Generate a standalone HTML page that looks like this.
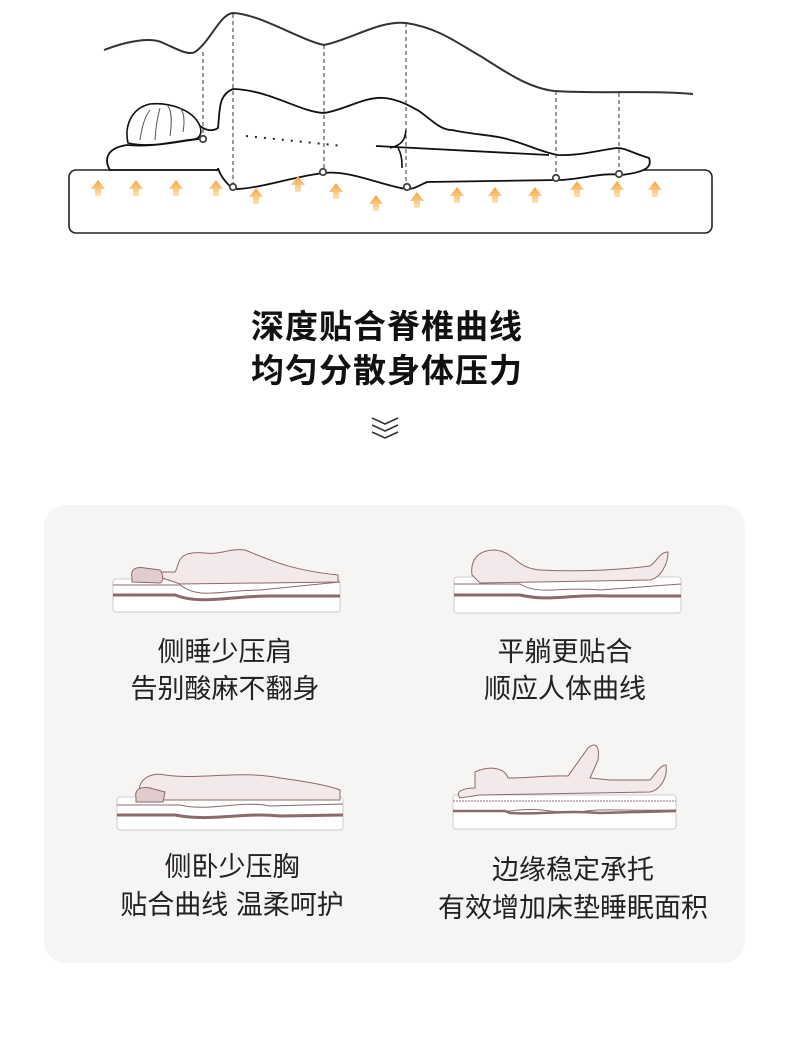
<!DOCTYPE html>
<html><head><meta charset="utf-8"><style>
html,body{margin:0;padding:0;background:#fff;}
body{width:790px;height:1043px;position:relative;overflow:hidden;font-family:"Liberation Sans","Noto Sans CJK SC",sans-serif;}
.t{position:absolute;left:0;width:774px;text-align:center;font-weight:bold;font-size:33px;color:#111;letter-spacing:1px;}
.card{position:absolute;left:44px;top:505px;width:701px;height:458px;background:#f7f4f4;border-radius:22px;}
.l{position:absolute;text-align:center;color:#222;font-size:27px;width:400px;}
</style></head><body>
<svg width="790" height="1043" style="position:absolute;left:0;top:0">
<defs>
<linearGradient id="ag" x1="0" y1="0" x2="0" y2="1"><stop offset="0" stop-color="#f3a640"/><stop offset="1" stop-color="#fde3b8"/></linearGradient>
<symbol id="ar" viewBox="0 0 14 16"><path d="M7 0 L14 9 L10 9 L10 16 L4 16 L4 9 L0 9Z" fill="url(#ag)"/></symbol>
</defs>
<rect x="69" y="170" width="643" height="63" rx="7" fill="#fff" stroke="#222" stroke-width="1.6"/>
<path d="M104 50 C130 40 150 38 161 42 C175 48 188 56 195 52 C210 42 220 14 233 13 C260 14 300 40 324 45 C350 40 380 20 406 23 C440 28 460 45 482 57 C510 75 530 88 554 91 C600 94 650 90 693 94" fill="none" stroke="#333" stroke-width="2"/>
<path d="M110 170 C104 160 106 148 127 145 C160 148 190 138 212 138 C224 145 224 162 218 170 Z" fill="#fff" stroke="#111" stroke-width="1.8"/>
<path d="M128 143 C124 125 132 108 150 104 C170 102 192 110 199 124 C203 132 200 138 195 139 C170 142 150 148 128 143Z" fill="#fff" stroke="#111" stroke-width="1.6"/>
<path d="M140 140 C142 125 146 115 150 110 M155 140 C156 125 158 115 160 108 M170 136 C172 122 172 112 168 106 M183 132 C185 120 184 112 180 108" fill="none" stroke="#555" stroke-width="1"/>
<path d="M200 126 C205 130 212 132 218 128 C220 110 218 95 233 89 C270 90 300 112 324 113 C345 110 365 96 385 98 C400 100 410 106 419 111 C432 120 440 130 452 130 C470 134 490 135 503 138 C525 143 540 152 558 155 C580 156 600 150 617 148 C625 148 630 152 649 158 C652 166 648 172 621 175 C600 172 580 180 558 180 L427 182 C418 186 412 190 406 189 C380 185 350 170 324 173 C295 176 255 190 233 189 C225 182 220 175 218 168" fill="#fff" stroke="#111" stroke-width="1.8"/>
<path d="M376 146 L549 155" fill="none" stroke="#111" stroke-width="1.8"/>
<path d="M406 130 C405 140 402 145 390 148 M398 148 C402 155 402 162 402 168" fill="none" stroke="#111" stroke-width="1.6"/>
<path d="M246 136 L343 146" fill="none" stroke="#222" stroke-width="2" stroke-dasharray="2 7"/>
<g stroke="#333" stroke-width="1" stroke-dasharray="4 3">
<line x1="203" y1="52" x2="203" y2="138"/><line x1="233" y1="14" x2="233" y2="186"/><line x1="324" y1="45" x2="324" y2="170"/><line x1="406" y1="23" x2="406" y2="185"/><line x1="556" y1="91" x2="556" y2="176"/><line x1="619" y1="93" x2="619" y2="172"/>
</g>
<g fill="#fff" stroke="#444" stroke-width="1.8">
<circle cx="203" cy="139" r="3.2"/><circle cx="233" cy="187" r="3.2"/><circle cx="323" cy="172" r="3.2"/><circle cx="407" cy="187" r="3.2"/><circle cx="556" cy="178" r="3.2"/><circle cx="619" cy="174" r="3.2"/>
</g>
<g>
<use href="#ar" x="91" y="180" width="14" height="16"/><use href="#ar" x="129" y="180" width="14" height="16"/><use href="#ar" x="169" y="180" width="14" height="16"/><use href="#ar" x="209" y="180" width="14" height="16"/>
<use href="#ar" x="249" y="188" width="14" height="16"/><use href="#ar" x="291" y="176" width="14" height="16"/><use href="#ar" x="329" y="183" width="14" height="16"/><use href="#ar" x="369" y="195" width="14" height="16"/>
<use href="#ar" x="410" y="192" width="14" height="16"/><use href="#ar" x="450" y="187" width="14" height="16"/><use href="#ar" x="488" y="187" width="14" height="16"/><use href="#ar" x="528" y="187" width="14" height="16"/>
<use href="#ar" x="570" y="181" width="14" height="16"/><use href="#ar" x="610" y="181" width="14" height="16"/><use href="#ar" x="648" y="181" width="14" height="16"/>
</g>
<g fill="none" stroke="#333" stroke-width="1.6">
<path d="M372 418 L385 424 L398 418"/><path d="M372 425 L385 431 L398 425"/><path d="M372 432 L385 438 L398 432"/>
</g>
</svg>
<div class="t" style="top:300px">深度贴合脊椎曲线</div>
<div class="t" style="top:344px">均匀分散身体压力</div>
<div class="card"></div>
<svg width="790" height="1043" style="position:absolute;left:0;top:0">
<g>
<rect x="113" y="579" width="227" height="33" rx="3" fill="#fff" stroke="#ccc"/>
<path d="M113 585 L180 585 C200 600 220 590 260 590 L340 582" fill="none" stroke="#8a6a6a" stroke-width="1"/>
<path d="M113 595 L175 595 C200 605 230 596 270 596 L340 596" fill="none" stroke="#8a6a6a" stroke-width="3"/>
<path d="M145 572 L175 572 C180 565 175 550 205 553 C220 555 230 548 245 550 C270 560 290 570 338 575 L338 582 L180 584Z" fill="#f3e9ea" stroke="#8a6a6a"/>
<path d="M132 578 C130 570 135 566 145 568 L160 570 C164 575 163 582 160 583 L132 582Z" fill="#e0cbcd" stroke="#8a6a6a"/>
</g>
<g>
<rect x="454" y="577" width="227" height="36" rx="3" fill="#fff" stroke="#ccc"/>
<path d="M454 584 L520 584 C540 596 560 586 600 590 L681 584" fill="none" stroke="#8a6a6a" stroke-width="1"/>
<path d="M454 595 L520 595 C550 602 570 594 610 596 L681 596" fill="none" stroke="#8a6a6a" stroke-width="3"/>
<path d="M472 575 C470 560 478 550 495 550 C515 552 515 568 540 570 C580 572 620 570 650 566 C658 560 660 552 668 552 C668 565 660 578 650 580 L480 583Z" fill="#f3e9ea" stroke="#8a6a6a"/>
</g>
<g>
<rect x="117" y="797" width="226" height="33" rx="3" fill="#fff" stroke="#ccc"/>
<path d="M117 805 L180 805 C210 812 240 800 270 806 L343 804" fill="none" stroke="#8a6a6a" stroke-width="1"/>
<path d="M117 815 L175 815 C210 822 240 812 280 816 L343 815" fill="none" stroke="#8a6a6a" stroke-width="3"/>
<path d="M140 795 C136 780 150 772 165 775 C200 780 240 770 280 778 C310 782 330 786 340 790 L340 800 L145 800Z" fill="#f3e9ea" stroke="#8a6a6a"/>
<path d="M136 798 C134 790 140 786 150 788 L165 792 L163 802 L136 802Z" fill="#e0cbcd" stroke="#8a6a6a"/>
</g>
<g>
<rect x="453" y="795" width="223" height="34" rx="3" fill="#fff" stroke="#ccc"/>
<path d="M453 801 L676 801" fill="none" stroke="#8a6a6a" stroke-width="1" stroke-dasharray="2 1"/>
<path d="M453 811 L510 811 C540 806 560 815 580 812 C600 808 620 811 676 810" fill="none" stroke="#8a6a6a" stroke-width="1"/>
<path d="M453 811 L505 811 L510 813 C540 815 560 810 600 813 L676 811" fill="none" stroke="#8a6a6a" stroke-width="2.5"/>
<path d="M460 798 C455 792 462 788 475 788 L475 772 C490 765 505 768 508 778 C530 778 550 775 568 776 L588 748 C595 742 600 745 598 760 L590 778 L610 780 L650 780 C655 775 660 765 666 765 C668 778 660 790 650 792 L480 795Z" fill="#f3e9ea" stroke="#8a6a6a"/>
</g>
</svg>
<div class="l" style="left:25px;top:630px">侧睡少压肩</div>
<div class="l" style="left:25px;top:667px">告别酸麻不翻身</div>
<div class="l" style="left:365px;top:630px">平躺更贴合</div>
<div class="l" style="left:365px;top:667px">顺应人体曲线</div>
<div class="l" style="left:32px;top:845px">侧卧少压胸</div>
<div class="l" style="left:32px;top:883px">贴合曲线 温柔呵护</div>
<div class="l" style="left:373px;top:848px">边缘稳定承托</div>
<div class="l" style="left:373px;top:886px">有效增加床垫睡眠面积</div>
</body></html>
